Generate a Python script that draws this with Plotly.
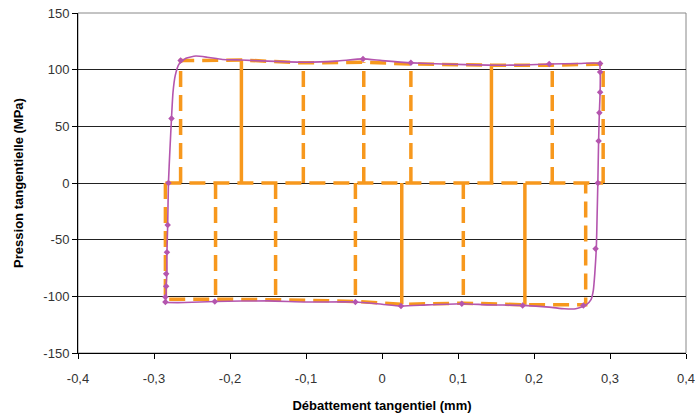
import plotly.graph_objects as go

# ---- data ----
# purple hysteresis loop (measured)
loop_x = [-0.285, -0.284, -0.284, -0.283, -0.283, -0.282, -0.281, -0.279, -0.277, -0.275, -0.272, -0.267,
          -0.258, -0.245, -0.230, -0.210, -0.185, -0.150, -0.100, -0.060, -0.025, 0.000, 0.040, 0.080,
          0.140, 0.180, 0.220, 0.260, 0.286, 0.287, 0.287, 0.286, 0.285, 0.284, 0.283, 0.282, 0.280,
          0.278, 0.275, 0.268, 0.255, 0.240, 0.220, 0.185, 0.140, 0.105, 0.060, 0.025, 0.000, -0.035,
          -0.100, -0.150, -0.220, -0.260, -0.285]
loop_y = [-105, -100, -90, -80, -62, -37, 0, 30, 57, 80, 95, 105,
          110, 112, 111, 109, 108.5, 107.5, 106.5, 107.5, 109.5, 108, 106, 105,
          104, 104, 105, 105.5, 105.5, 100, 80, 62, 37, 0, -30, -58, -80,
          -95, -103, -108, -111, -111, -109.5, -108, -107.5, -106.5, -107.5, -108.5, -107, -105,
          -105, -104, -104.5, -105.5, -105.5]

# measured points (markers)
pts_x = [-0.285, -0.285, -0.284, -0.284, -0.283, -0.282, -0.281, -0.277,
         -0.265, -0.025, 0.038, 0.220, 0.287,
         0.287, 0.287, 0.286, 0.285, 0.284, 0.281,
         0.265, 0.185, 0.105, 0.025, -0.035, -0.220]
pts_y = [-105, -100.5, -91, -80, -61, -37, 0, 57,
         108, 109.5, 106, 105, 105.5,
         98, 80, 62, 37, 0, -58,
         -108, -108, -106.5, -108.5, -105, -104.5]

# orange idealised model: outline paths
upper_x = [-0.265, -0.265, -0.185, -0.1035, -0.024, 0.038, 0.144, 0.224, 0.291, 0.291]
upper_y = [0, 108, 108.5, 106, 106.5, 105, 104, 104, 105, 0]
middle_x = [-0.285, 0.291]
middle_y = [0, 0]
lower_x = [-0.285, -0.285, -0.219, -0.140, -0.035, 0.026, 0.107, 0.188, 0.268, 0.268]
lower_y = [0, -102.5, -102.5, -103, -104.5, -107, -106, -107.5, -107.5, 0]

# orange vertical steps (x position, end value)
up_dashed_x = [-0.1035, -0.024, 0.038, 0.224]
up_dashed_y = [106, 106.5, 105, 104]
up_solid_x = [-0.185, 0.144]
up_solid_y = [108.5, 104]
lo_dashed_x = [-0.219, -0.140, -0.035, 0.107]
lo_dashed_y = [-102.5, -103, -104.5, -106]
lo_solid_x = [0.026, 0.188]
lo_solid_y = [-107, -107.5]

x_ticks = [-0.4, -0.3, -0.2, -0.1, 0, 0.1, 0.2, 0.3, 0.4]
x_labels = ["-0,4", "-0,3", "-0,2", "-0,1", "0", "0,1", "0,2", "0,3", "0,4"]
y_ticks = [-150, -100, -50, 0, 50, 100, 150]
y_labels = ["-150", "-100", "-50", "0", "50", "100", "150"]

ORANGE = "#F7981D"
PURPLE = "#B455AE"


def segs(xs, ends):
    sx, sy = [], []
    for x, e in zip(xs, ends):
        sx += [x, x, None]
        sy += [0, e, None]
    return sx, sy


fig = go.Figure()
dash = "16px,8px"
for xs, ys in [(upper_x, upper_y), (middle_x, middle_y), (lower_x, lower_y)]:
    fig.add_trace(go.Scatter(x=xs, y=ys, mode="lines",
                             line=dict(color=ORANGE, width=3.5, dash=dash), hoverinfo="skip"))
for xs, es, d in [(up_dashed_x, up_dashed_y, dash), (lo_dashed_x, lo_dashed_y, dash),
                  (up_solid_x, up_solid_y, "solid"), (lo_solid_x, lo_solid_y, "solid")]:
    sx, sy = segs(xs, es)
    fig.add_trace(go.Scatter(x=sx, y=sy, mode="lines",
                             line=dict(color=ORANGE, width=3.5, dash=d), hoverinfo="skip"))

fig.add_trace(go.Scatter(x=loop_x, y=loop_y, mode="lines",
                         line=dict(color=PURPLE, width=1.6, shape="spline", smoothing=0.5)))
fig.add_trace(go.Scatter(x=pts_x, y=pts_y, mode="markers",
                         marker=dict(color=PURPLE, size=5, symbol="diamond")))

font = "Liberation Sans, Arial, sans-serif"
fig.update_layout(
    width=695, height=417,
    margin=dict(l=78, r=9, t=13, b=64),
    paper_bgcolor="white", plot_bgcolor="white",
    showlegend=False,
    font=dict(family=font, size=13, color="#333"),
    xaxis=dict(range=[-0.4, 0.4], tickvals=x_ticks, ticktext=x_labels, automargin=False,
               showgrid=False, zeroline=False, showline=True, linecolor="black", linewidth=1,
               ticks="outside", ticklen=5, tickcolor="black", ticklabelstandoff=8,
               ticklabeloverflow="allow",
               title=dict(text="<b>Débattement tangentiel (mm)</b>", font=dict(size=13, color="black"),
                          standoff=16)),
    yaxis=dict(range=[-150, 150], tickvals=y_ticks, ticktext=y_labels, automargin=False,
               showgrid=True, gridcolor="#222", gridwidth=1, zeroline=False,
               showline=True, linecolor="black", linewidth=1,
               ticks="outside", ticklen=5, tickcolor="black", ticklabeloverflow="allow",
               title=dict(text="<b>Pression tangentielle (MPa)</b>", font=dict(size=13, color="black"),
                          standoff=16)),
    shapes=[dict(type="rect", xref="paper", yref="paper", x0=0, x1=1, y0=0, y1=1,
                 line=dict(color="#888", width=1), layer="below")],
)

fig.write_html("out.html", config={"displayModeBar": False},
               post_script="document.body.style.margin='0';document.body.style.overflow='hidden';")
